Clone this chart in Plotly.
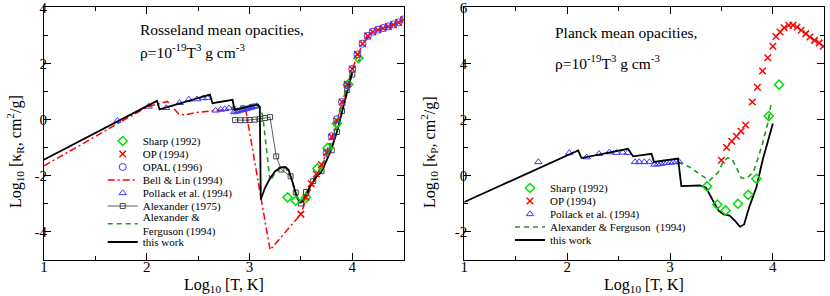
import plotly.graph_objects as go

# ---------------- data ----------------
# Left panel: Rosseland mean opacities
ross_sharp_x = [3.37, 3.45, 3.55, 3.66, 3.76, 3.85, 3.96, 4.06]
ross_sharp_y = [-2.78, -2.90, -2.79, -1.75, -1.02, -0.15, 1.25, 2.19]

ross_op_x = [3.50, 3.55, 3.60, 3.65, 3.70, 3.75, 3.80, 3.85, 3.90, 3.95, 4.00,
             4.05, 4.10, 4.15, 4.20, 4.25, 4.30, 4.35, 4.40, 4.45, 4.50]
ross_op_y = [-3.38, -2.78, -2.30, -1.95, -1.62, -1.18, -0.63, -0.05, 0.62, 1.25, 1.80,
             2.32, 2.70, 2.98, 3.12, 3.19, 3.25, 3.31, 3.38, 3.46, 3.56]

ross_opal_x = [3.75, 3.80, 3.85, 3.90, 3.95, 4.00, 4.05, 4.10, 4.15, 4.20, 4.25,
               4.30, 4.35, 4.40, 4.45, 4.50]
ross_opal_y = [-1.20, -0.60, 0.00, 0.62, 1.22, 1.80, 2.32, 2.70, 2.98, 3.13, 3.20,
               3.26, 3.32, 3.39, 3.46, 3.57]

ross_bl_x = [1.00, 2.00, 2.20, 2.31, 2.37, 2.47, 2.65, 2.83, 2.96, 3.20, 3.50,
             3.56, 3.62, 3.70, 3.80, 3.90, 4.00, 4.10, 4.20, 4.30, 4.40, 4.50]
ross_bl_y = [-1.66, 0.44, 0.64, 0.20, 0.16, 0.24, 0.31, 0.37, 0.40, -4.66, -3.38,
             -2.75, -2.30, -1.65, -0.65, 0.62, 1.80, 2.70, 3.12, 3.25, 3.38, 3.56]

ross_pol_x = [1.715, 2.02, 2.19, 2.32, 2.41, 2.49, 2.55, 2.59, 2.67, 2.72, 2.76, 2.80,
              2.85, 2.87, 2.89, 2.91, 2.93, 2.95, 2.97, 2.99, 3.01, 3.03, 3.05, 3.07]
ross_pol_y = [-0.05, 0.46, 0.41, 0.59, 0.71, 0.72, 0.76, 0.77, 0.32, 0.35, 0.37, 0.40,
              0.26, 0.28, 0.30, 0.32, 0.34, 0.36, 0.38, 0.40, 0.42, 0.44, 0.46, 0.48]

ross_alx_x = [2.86, 2.91, 2.96, 3.00, 3.05, 3.10, 3.15, 3.20, 3.26, 3.31, 3.40,
              3.45, 3.50, 3.55, 3.62, 3.70, 3.80, 3.85, 3.90, 3.95, 4.00]
ross_alx_y = [-0.02, -0.03, -0.03, -0.02, -0.01, 0.02, 0.05, 0.08, -1.32, -1.79, -2.03,
              -2.61, -3.00, -2.59, -2.20, -1.85, -1.10, -0.45, 0.30, 1.05, 1.60]

ross_af_x = [2.82, 2.90, 3.00, 3.06, 3.10, 3.13, 3.20, 3.25, 3.30, 3.35, 3.40,
             3.45, 3.50, 3.55, 3.60, 3.70, 3.80, 3.90, 4.00, 4.08]
ross_af_y = [0.42, 0.46, 0.50, 0.55, 0.45, 0.10, -2.20, -1.90, -1.74, -1.72, -2.05,
             -2.62, -2.92, -2.65, -2.28, -1.70, -0.80, 0.55, 1.75, 2.20]

ross_this_x = [1.00, 2.10, 2.125, 2.615, 2.64, 2.835, 2.855, 3.08, 3.10, 3.11, 3.15,
               3.20, 3.25, 3.30, 3.35, 3.38, 3.42, 3.46, 3.49, 3.52, 3.56, 3.60,
               3.65, 3.70, 3.75, 3.80, 3.85, 3.90, 3.95, 4.00]
ross_this_y = [-1.44, 0.66, 0.36, 0.88, 0.58, 0.70, 0.34, 0.53, 0.45, -2.86, -2.45,
               -2.10, -1.85, -1.72, -1.70, -1.80, -2.25, -2.78, -2.97, -2.92, -2.62, -2.32,
               -2.05, -1.87, -1.46, -1.00, -0.45, 0.25, 1.00, 1.68]

# Right panel: Planck mean opacities
planck_sharp_x = [3.36, 3.46, 3.54, 3.66, 3.76, 3.84, 3.96, 4.06]
planck_sharp_y = [-0.39, -1.04, -1.25, -1.01, -0.69, -0.12, 2.12, 3.24]

planck_op_x = [3.50, 3.55, 3.60, 3.645, 3.69, 3.735, 3.80, 3.85, 3.90, 3.95, 4.00,
               4.03, 4.07, 4.11, 4.155, 4.195, 4.235, 4.275, 4.32, 4.36, 4.405, 4.45, 4.49]
planck_op_y = [0.54, 1.00, 1.22, 1.40, 1.58, 1.80, 2.62, 3.15, 3.73, 4.20, 4.61,
               4.96, 5.12, 5.27, 5.36, 5.36, 5.30, 5.18, 5.06, 4.94, 4.82, 4.73, 4.61]

planck_pol_x = [1.72, 2.02, 2.19, 2.31, 2.41, 2.48, 2.54, 2.59, 2.66, 2.70, 2.75,
                2.80, 2.85, 2.88, 2.91, 2.94, 2.97, 3.00, 3.03, 3.06, 3.09]
planck_pol_y = [0.48, 0.80, 0.65, 0.77, 0.83, 0.81, 0.82, 0.81, 0.48, 0.48, 0.48,
                0.48, 0.39, 0.40, 0.42, 0.44, 0.45, 0.46, 0.47, 0.49, 0.48]

planck_af_x = [3.08, 3.19, 3.29, 3.385, 3.47, 3.515, 3.56, 3.60, 3.65, 3.69, 3.74,
               3.81, 3.85, 3.90, 3.95, 3.985]
planck_af_y = [0.48, 0.30, 0.04, -0.18, 0.12, 0.48, 0.63, 0.60, 0.25, -0.08, -0.12,
               0.12, 0.55, 1.15, 1.85, 2.60]

planck_this_x = [1.00, 2.107, 2.14, 2.592, 2.641, 2.82, 2.845, 3.078, 3.11, 3.16, 3.29,
                 3.35, 3.40, 3.47, 3.52, 3.58, 3.63, 3.68, 3.72, 3.77, 3.84, 3.90, 4.00]
planck_this_y = [-0.95, 0.89, 0.62, 0.95, 0.68, 0.77, 0.48, 0.60, -0.38, -0.38, -0.36,
                 -0.44, -0.77, -1.25, -1.39, -1.43, -1.61, -1.83, -1.75, -1.13, -0.42, 0.54, 1.85]

# tick labels
x_tickvals = [1, 2, 3, 4]
x_ticktext = ["1", "2", "3", "4"]
ross_ytickvals = [-4, -2, 0, 2, 4]
ross_yticktext = ["-4", "-2", "0", "2", "4"]
planck_ytickvals = [-2, 0, 2, 4, 6]
planck_yticktext = ["-2", "0", "2", "4", "6"]

# ---------------- styling ----------------
W, H = 830, 296
FONT = "Liberation Serif, Times New Roman, serif"
RED = "#ff0000"
GREEN_M = "#00e000"
GREEN_L = "#1f9a1f"
BLUE = "#3a3aff"


def fx(p):
    return p / W


def fy(p):
    return 1 - p / H


fig = go.Figure()


def add(x, y, name, legend, xa, ya, **kw):
    fig.add_trace(go.Scatter(x=x, y=y, name=name, legend=legend,
                             xaxis=xa, yaxis=ya, **kw))


diamond = dict(symbol="diamond-open", size=7, color=GREEN_M, line=dict(width=1.5, color=GREEN_M))
cross = dict(symbol="x-thin", size=6.5, color=RED, line=dict(width=1.5, color=RED))
circ = dict(symbol="circle-open", size=7, color=BLUE, line=dict(width=1, color=BLUE))
tri = dict(symbol="triangle-up-open", size=6.5, color=BLUE, line=dict(width=1, color=BLUE))
sq = dict(symbol="square-open", size=5, color="#333333", line=dict(width=0.9, color="#333333"))

# ---- left panel ----
add(ross_bl_x, ross_bl_y, "Bell & Lin (1994)", "legend4", "x", "y", mode="lines",
    line=dict(color=RED, width=1.5, dash="7px,3px,2px,3px"))
add(ross_alx_x, ross_alx_y, "Alexander (1975)", "legend6", "x", "y", mode="lines+markers",
    line=dict(color="#333333", width=0.8), marker=sq)
add(ross_af_x, ross_af_y, "Alexander &<br>Ferguson (1994)", "legend7", "x", "y", mode="lines",
    line=dict(color=GREEN_L, width=1.6, dash="5px,4px"))
add(ross_pol_x, ross_pol_y, "Pollack et al. (1994)", "legend5", "x", "y", mode="markers", marker=tri)
add(ross_this_x, ross_this_y, "this work", "legend8", "x", "y", mode="lines",
    line=dict(color="black", width=1.8))
add(ross_sharp_x, ross_sharp_y, "Sharp (1992)", "legend", "x", "y", mode="markers", marker=diamond)
add(ross_op_x, ross_op_y, "OP (1994)", "legend2", "x", "y", mode="markers", marker=cross)
add(ross_opal_x, ross_opal_y, "OPAL (1996)", "legend3", "x", "y", mode="markers", marker=circ)

# ---- right panel ----
add(planck_af_x, planck_af_y, "Alexander & Ferguson  (1994)", "legend12", "x2", "y2", mode="lines",
    line=dict(color=GREEN_L, width=1.6, dash="5px,4px"))
add(planck_pol_x, planck_pol_y, "Pollack et al. (1994)", "legend11", "x2", "y2", mode="markers", marker=tri)
add(planck_this_x, planck_this_y, "this work", "legend13", "x2", "y2", mode="lines",
    line=dict(color="black", width=1.8))
add(planck_sharp_x, planck_sharp_y, "Sharp (1992)", "legend9", "x2", "y2", mode="markers", marker=diamond)
add(planck_op_x, planck_op_y, "OP (1994)", "legend10", "x2", "y2", mode="markers", marker=cross)

# ---- axes ----
ydom = [fy(259.5), fy(7.3)]
axis_common = dict(showline=True, linecolor="black", linewidth=1, mirror="allticks",
                   ticks="inside", ticklen=7, tickwidth=1, tickcolor="black",
                   showgrid=False, zeroline=False, automargin=False,
                   ticklabeloverflow="allow", ticklabelstandoff=-7,
                   tickfont=dict(family=FONT, size=15, color="black"))
minor_x = dict(ticks="inside", ticklen=4, tickcolor="black", tickwidth=1, dtick=0.5, tick0=1, showgrid=False)
minor_y = dict(ticks="inside", ticklen=4, tickcolor="black", tickwidth=1, dtick=1, tick0=0, showgrid=False)

fig.update_layout(
    xaxis=dict(domain=[fx(43.9), fx(403.7)], range=[1, 4.5], tickvals=x_tickvals, ticktext=x_ticktext,
               minor=minor_x, anchor="y", **axis_common),
    yaxis=dict(domain=ydom, range=[-5, 4], tickvals=ross_ytickvals, ticktext=ross_yticktext,
               minor=minor_y, anchor="x", **axis_common),
    xaxis2=dict(domain=[fx(464.3), fx(824.3)], range=[1, 4.5], tickvals=x_tickvals, ticktext=x_ticktext,
                minor=minor_x, anchor="y2", **axis_common),
    yaxis2=dict(domain=ydom, range=[-3, 6], tickvals=planck_ytickvals, ticktext=planck_yticktext,
                minor=minor_y, anchor="x2", **axis_common),
)

# ---- legends: one per entry so row spacing can follow the reference ----
LEG_FONT = dict(family=FONT, size=11, color="black")
left_rows = [141, 154, 167, 180, 193, 206, 224, 242]
right_rows = [188, 201, 214, 227, 240]
left_names = ["legend", "legend2", "legend3", "legend4", "legend5", "legend6", "legend7", "legend8"]
right_names = ["legend9", "legend10", "legend11", "legend12", "legend13"]
leg_layout = {}
for nm, row in zip(left_names, left_rows):
    leg_layout[nm] = dict(x=fx(102.7), y=fy(row), xanchor="left", yanchor="middle",
                          bgcolor="rgba(0,0,0,0)", borderwidth=0, font=LEG_FONT, itemwidth=30)
for nm, row in zip(right_names, right_rows):
    leg_layout[nm] = dict(x=fx(510), y=fy(row), xanchor="left", yanchor="middle",
                          bgcolor="rgba(0,0,0,0)", borderwidth=0, font=LEG_FONT, itemwidth=30)
fig.update_layout(**leg_layout)

# ---- text annotations ----
TF = dict(family=FONT, size=15.5, color="black")
AX_F = dict(family=FONT, size=16, color="black")
xtitle = "Log<sub>10</sub> [T, K]"
ytitle_l = "Log<sub>10</sub> [κ<sub>R</sub>, cm<sup>2</sup>/g]"
ytitle_r = "Log<sub>10</sub> [κ<sub>P</sub>, cm<sup>2</sup>/g]"
rho = "ρ=10<sup>-19</sup>T<sup>3</sup> g cm<sup>-3</sup>"
annots = [
    dict(text="Rosseland mean opacities,", x=fx(138), y=fy(30), xanchor="left", yanchor="middle", font=TF),
    dict(text=rho, x=fx(138), y=fy(51), xanchor="left", yanchor="middle", font=TF),
    dict(text="Planck mean opacities,", x=fx(553), y=fy(32), xanchor="left", yanchor="middle", font=TF),
    dict(text=rho, x=fx(553), y=fy(62), xanchor="left", yanchor="middle", font=TF),
    dict(text=xtitle, x=fx(224), y=fy(285), xanchor="center", yanchor="middle", font=AX_F),
    dict(text=xtitle, x=fx(644), y=fy(285), xanchor="center", yanchor="middle", font=AX_F),
    dict(text=ytitle_l, x=fx(15), y=fy(152), xanchor="center", yanchor="middle", textangle=-90, font=AX_F),
    dict(text=ytitle_r, x=fx(429), y=fy(152), xanchor="center", yanchor="middle", textangle=-90, font=AX_F),
]
for a in annots:
    a.update(xref="paper", yref="paper", showarrow=False)

fig.update_layout(
    width=W, height=H, margin=dict(l=0, r=0, t=0, b=0, autoexpand=False),
    paper_bgcolor="white", plot_bgcolor="white",
    annotations=annots, showlegend=True,
    font=dict(family=FONT, color="black"),
)

fig.write_html("out.html", config={"displayModeBar": False},
               post_script="document.body.style.margin='0';document.body.style.padding='0';")
